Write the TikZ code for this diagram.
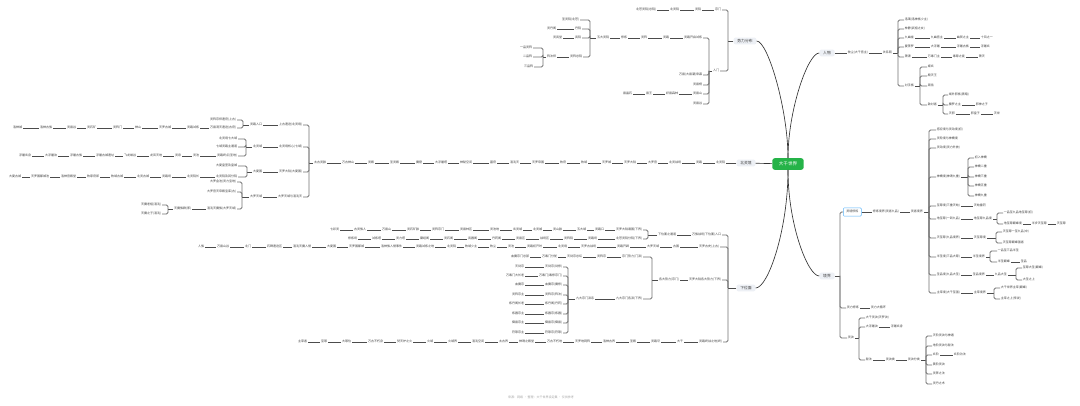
\documentclass[tikz,border=0pt]{standalone}
\usepackage{fontspec}
\setmainfont{Noto Sans CJK SC}
\usepackage{xcolor}
\definecolor{topicfill}{RGB}{237,240,245}
\definecolor{rootgreen}{RGB}{37,179,72}
\definecolor{pickblue}{RGB}{90,180,250}
\definecolor{inkgray}{RGB}{60,60,60}

\tikzset{
  lbl/.style={font=\fontsize{3}{3.6}\selectfont, text=inkgray, inner xsep=0.7pt, inner ysep=0.4pt, text height=2.5pt, text depth=0.6pt},
  lnk/.style={draw=black!70, line width=0.55pt},
  brk/.style={draw=black!55, line width=0.8pt, rounded corners=1.5pt},
  topic/.style={fill=topicfill, rounded corners=2pt, font=\fontsize{3.8}{4.4}\selectfont, text=inkgray, inner xsep=3.8pt, inner ysep=1.6pt, text height=2.9pt, text depth=0.7pt},
  rootnode/.style={fill=rootgreen, rounded corners=2.5pt, text=white, font=\fontsize{4.6}{5.2}\selectfont, inner xsep=6.5pt, inner ysep=3.6pt, text height=3.6pt, text depth=0.8pt},
  curve/.style={draw=black!80, line width=0.65pt},
  pick/.style={draw=pickblue, line width=0.5pt, rounded corners=1pt, inner xsep=3pt, inner ysep=2.6pt},
}

% a row of text nodes, joined one to the next
\newcommand{\chainrow}[4]{%
  \foreach \ex/\tx [count=\ci] in {#4}{%
    \node[lbl, anchor=#3] (#1\ci) at (\ex,#2) {\tx};
    \ifnum\ci>1 \pgfmathtruncatemacro\cj{\ci-1}\draw[lnk] (#1\cj) -- (#1\ci);\fi
  }}
% a bracket from a parent node to its children
\newcommand{\branchfork}[3]{%
  \draw[lnk] (#1) -- (#1 -| #2,0);
  \foreach \kid in {#3} \draw[brk] (#1 -| #2,0) |- (\kid);
}

\begin{document}
\begin{tikzpicture}[x=1pt,y=1pt,yscale=-1,xscale=1]
\fill[white] (0,0) rectangle (1080,406);
\useasboundingbox (0,0) rectangle (1080,406);

% Root and main topics
\node[rootnode] (root) at (788,164) {大千世界};
\node[topic] (br1) at (745,41) {势力分布};
\node[topic] (br2) at (827,53) {人物};
\node[topic] (br3) at (746,163) {北灵境};
\node[topic] (br4) at (746,288) {下位面};
\node[topic] (br5) at (827,276) {境界};

%Curves
\draw[curve] (root.north) .. controls (788,110) and (768,41) .. (br1.east);
\draw[curve] (root.north) .. controls (788,110) and (808,53) .. (br2.west);
\draw[curve] (root.south) .. controls (788,230) and (768,288) .. (br4.east);
\draw[curve] (root.south) .. controls (788,225) and (808,276) .. (br5.west);
\draw[curve] (root) -- (br3);

% Text Nodes: 势力分布
\chainrow{tA}{10}{east}{722/宗门,702/灵院,680/北灵院,657/北苍灵院(总院)}
\chainrow{tB}{71}{east}{720/入门}
\branchfork{br1}{728}{tA1,tB1}
\chainrow{tC}{38}{east}{703/灵路开启试炼,670/灵路,648/灵阵,628/修炼,610/五大灵院}
\chainrow{tD}{75}{east}{703/万兽(大兽潮)来袭}
\chainrow{tE}{85}{east}{703/灵兽榜}
\chainrow{tF}{94}{east}{703/灵兽山,679/妖兽森林,653/兽王,633/兽晶石}
\chainrow{tG}{104}{east}{703/灵兽谷}
\branchfork{tB1}{709}{tC1,tD1,tE1,tF1,tG1}
\chainrow{tH}{20}{east}{580/圣灵院(北苍)}
\chainrow{tI}{29}{east}{582/丹院,557/灵丹阁}
\chainrow{tJ}{38}{east}{582/武院,563/灵武堂}
\chainrow{tK}{57}{east}{583/灵阵总院,557/阵法师}
\branchfork{tC5}{590}{tH1,tI1,tJ1,tK1}
\chainrow{tL}{48}{east}{533/一品灵阵}
\chainrow{tM}{57}{east}{533/二品阵}
\chainrow{tN}{67}{east}{534/三品阵}
\branchfork{tK2}{543}{tL1,tM1,tN1}

% Text Nodes: 人物
\chainrow{pA}{53}{west}{847/牧尘(大千宫主),882/关系网}
\draw[lnk] (br2) -- (pA1);
\chainrow{pB}{20}{west}{904/洛璃(洛神族少主)}
\chainrow{pC}{29}{west}{904/林静(武祖之女)}
\chainrow{pD}{38}{west}{904/九幽雀,930/九幽宫主,956/幽冥之主,980/十凤之一}
\chainrow{pE}{47}{west}{904/曼荼罗,930/大浮屠,956/浮屠古族,980/浮屠玄}
\chainrow{pF}{57}{west}{904/萧潇,927/万毒门主,952/毒尊之徒,978/萧天}
\chainrow{pG}{86}{west}{904/对手族}
\branchfork{pA2}{898}{pB1,pC1,pD1,pE1,pF1,pG1}
\chainrow{pH}{67}{west}{927/姬玄}
\chainrow{pI}{76}{west}{927/殿天王}
\chainrow{pJ}{86}{west}{927/周岳}
\chainrow{pK}{105}{west}{927/敌对者}
\branchfork{pG1}{920}{pH1,pI1,pJ1,pK1}
\chainrow{pL}{95}{west}{948/域外邪族(黑暗)}
\chainrow{pM}{105}{west}{948/魔罗之主,975/邪神之子}
\chainrow{pN}{114}{west}{948/天邪,970/邪皇子,993/灭世}
\branchfork{pK1}{943}{pL1,pM1,pN1}

% Text Nodes: 北灵境
\chainrow{mA}{163}{east}{726/北灵院,703/灵路,682/北灵战场,658/大罗宫,637/天罗大陆,612/天罗城,588/牧域,567/牧府,545/天罗帝国,520/混沌天,497/墓府,473/神秘空间,448/大浮屠塔,423/魔窟,400/圣灵殿,375/灵殿,355/万古神山,327/太古灵脉}
\draw[lnk] (br3) -- (mA1);
\chainrow{mB}{125}{east}{303/上古遗迹(北灵境),263/灵路入口}
\chainrow{mC}{147}{east}{303/北灵境核心(七域),263/北灵域}
\chainrow{mD}{172}{east}{303/天罗大陆(大夏国),263/大夏国}
\chainrow{mE}{197}{east}{303/大罗天域与混沌天,263/大罗天域}
\branchfork{mA18}{309}{mB1,mC1,mD1,mE1}
\chainrow{mF}{120}{east}{237/灵阵宗师遗府(上古)}
\chainrow{mG}{128}{east}{237/万兽洞天遗迹(古府),200/灵路试炼,172/天罗古城,142/神山,123/灵阵门,97/灵石矿,77/灵兽谷,53/洛神古族,23/洛神城}
\branchfork{mB2}{243}{mF1,mG1}
\chainrow{mH}{139}{east}{238/北灵境七大域}
\chainrow{mI}{147}{east}{238/七域灵路主通道}
\chainrow{mJ}{156}{east}{238/灵路终点(圣地),200/灵池,182/灵泉,163/龙凤天地,137/飞龙峡谷,115/浮屠古城遗址,83/浮屠古族,58/大浮屠诀,32/浮屠玄身}
\branchfork{mC2}{246}{mH1,mI1,mJ1}
\chainrow{mK}{166}{east}{238/大夏皇室及皇城}
\chainrow{mL}{177}{east}{238/北灵院及其分院,200/北灵院长,172/灵路场,150/北灵古城,124/牧域古城,100/牧家府邸,77/洛神宫殿堂,50/天罗国都城池,22/大夏古城}
\branchfork{mD2}{247}{mK1,mL1}
\chainrow{mM}{182}{east}{237/大罗金池(灵力宝地)}
\chainrow{mN}{192}{east}{237/大罗宫天帝殿宝库(古)}
\chainrow{mO}{209}{east}{237/混沌天魔族(大罗天域),192/天魔族群(邪)}
\branchfork{mE2}{242}{mM1,mN1,mO1}
\chainrow{mP}{205}{east}{162/天魔老祖(混沌)}
\chainrow{mQ}{214}{east}{162/天魔之子(混沌)}
\branchfork{mO2}{168}{mP1,mQ1}

% Text Nodes: 下位面
\chainrow{lA}{235}{east}{722/万族战场(下位面)入口,677/下位面之通道}
\chainrow{lB}{247}{east}{720/天罗古史(上古),680/古国,660/大罗天域,630/灵路开辟,597/天罗古战场,568/北灵境,543/灵路初开时,515/灵池,497/牧尘,478/牧域少主,457/北灵院,435/灵路试炼之地,403/洛神族入侵事件,365/天罗国都城,337/大夏国,312/混沌天魔入侵,283/石碑遗迹区,252/北门,230/万兽山谷,205/人族}
\chainrow{lC}{280}{east}{722/天罗大陆各大势力(下界),680/各大势力(宗门)}
\chainrow{lD}{342}{east}{723/灵路终战之地(终),684/大千,661/灵路尽,637/圣殿,616/洛神古界,591/天罗地网阵,563/万古不朽地,535/神魂之殿堂,509/太古界,485/混沌空间,458/火域界,434/火域,413/焚天炉之火,384/万古不朽身,352/大尊位,328/至尊,308/主宰者}
\branchfork{br4}{728}{lA1,lB1,lC1,lD1}
\chainrow{lE}{230}{east}{643/天罗大陆诸国(下界),605/灵路口,587/五大域,563/灵山脉,543/北灵城,523/玄灵域,500/灵池地,473/灵兽林区,445/灵阵宗门,420/灵石矿脉,392/万兽山,367/古灵族人,340/七彩灵}
\chainrow{lF}{239}{east}{643/北苍灵院分院(下界),598/灵路场,574/灵阵院,550/战场区,526/灵兽区,502/丹药阁,478/武器阁,454/灵石阁,430/藏经阁,406/灵力塔,382/试炼塔,358/修炼场}
\branchfork{lA2}{648}{lE1,lF1}
\chainrow{lG}{257}{east}{643/宗门势力(门派),607/灵阵宗,583/天剑宗总坛,558/万毒门分舵,530/血魔宗门总部}
\chainrow{lH}{299}{east}{643/九大宗门各派(下界),595/九大宗门派系}
\branchfork{lC2}{652}{lG1,lH1}
\chainrow{lI}{267}{east}{563/天剑宗(剑修),525/天剑宗}
\chainrow{lJ}{276}{east}{563/万毒门(毒修宗门),525/万毒门大长老}
\chainrow{lK}{285}{east}{563/血魔宗(魔修),525/血魔宗}
\chainrow{lL}{295}{east}{563/灵阵宗(阵法),525/灵阵宗主}
\chainrow{lM}{304}{east}{563/炼丹阁(丹药),525/炼丹阁长老}
\chainrow{lN}{314}{east}{563/炼器宗(炼器),525/炼器宗主}
\chainrow{lO}{323}{east}{563/御兽宗(御兽),525/御兽宗主}
\chainrow{lP}{333}{east}{563/符箓宗(符箓),525/符箓宗主}
\branchfork{lH2}{568}{lI1,lJ1,lK1,lL1,lM1,lN1,lO1,lP1}

% Text Nodes: 境界
\node[lbl, pick, anchor=west] (rA0) at (843,212) {灵境修炼};
\chainrow{rA}{212}{west}{872/修炼境界(灵者九品),910/灵者境界}
\draw[lnk] (rA0) -- (rA1);
\chainrow{rB}{308}{west}{846/灵力修炼,870/灵力大循环}
\chainrow{rC}{338}{west}{847/灵诀}
\branchfork{br5}{840}{rA0,rB1,rC1}
\chainrow{rD}{130}{west}{936/感应境与灵动境(初)}
\chainrow{rE}{139}{west}{936/灵轮境与神魄境}
\chainrow{rF}{148}{west}{936/灵动境(灵力外放)}
\chainrow{rG}{177}{west}{936/神魄境(神魂九重)}
\chainrow{rH}{206}{west}{936/至尊境(三重天劫),973/天劫雷罚}
\chainrow{rI}{219}{west}{936/地至尊(一到九品),973/地至尊九品境}
\chainrow{rJ}{238}{west}{936/天至尊(九品境界),973/天至尊境}
\chainrow{rK}{257}{west}{936/半圣境(三品大尊),972/半圣境界}
\chainrow{rL}{275}{west}{936/圣品境(九品大圣),972/圣品境界,994/九品大圣}
\chainrow{rM}{293}{west}{936/主宰境(大千至强),973/主宰境界}
\branchfork{rA2}{929}{rD1,rE1,rF1,rG1,rH1,rI1,rJ1,rK1,rL1,rM1}
\chainrow{rN}{158}{west}{974/初入神魄}
\chainrow{rO}{167}{west}{974/神魄二重}
\chainrow{rP}{177}{west}{974/神魄三重}
\chainrow{rQ}{186}{west}{974/神魄五重}
\chainrow{rR}{196}{west}{974/神魄九重}
\branchfork{rG1}{968}{rN1,rO1,rP1,rQ1,rR1}
\chainrow{rS}{213}{west}{1003/一品至九品地至尊(初)}
\chainrow{rT}{224}{west}{1003/地至尊巅峰境,1031/半步天至尊,1056/天至尊}
\branchfork{rI2}{997}{rS1,rT1}
\chainrow{rU}{232}{west}{1002/天至尊一至九品(中)}
\chainrow{rV}{243}{west}{1002/天至尊巅峰强者}
\branchfork{rJ2}{996}{rU1,rV1}
\chainrow{rW}{251}{west}{997/一品至三品半圣}
\chainrow{rX}{262}{west}{997/半圣巅峰,1020/圣品}
\branchfork{rK2}{990}{rW1,rX1}
\chainrow{rY}{268}{west}{1022/至尊大圣(巅峰)}
\chainrow{rZ}{280}{west}{1022/大圣之上}
\branchfork{rL3}{1016}{rY1,rZ1}
\chainrow{sA}{288}{west}{1000/大千世界主宰(巅峰)}
\chainrow{sB}{299}{west}{1000/主宰之上(传说)}
\branchfork{rM2}{994}{sA1,sB1}
\chainrow{sC}{318}{west}{865/大千灵诀(天罗诀)}
\chainrow{sD}{327}{west}{865/大浮屠诀,890/浮屠玄身}
\chainrow{sE}{360}{west}{865/秘法,885/灵诀类,907/灵诀分类}
\branchfork{rC1}{859}{sC1,sD1,sE1}
\chainrow{sF}{336}{west}{932/天阶灵诀与神通}
\chainrow{sG}{346}{west}{932/地阶灵诀与秘法}
\chainrow{sH}{355}{west}{932/玄阶,953/玄阶功法}
\chainrow{sI}{365}{west}{932/黄阶灵诀}
\chainrow{sJ}{374}{west}{932/灵阵之法}
\chainrow{sK}{384}{west}{932/灵丹之术}
\branchfork{sE3}{926}{sF1,sG1,sH1,sI1,sJ1,sK1}

% Text Node
\node[lbl, text=black!35] (note) at (541,398) {来源：网络 · 整理：大千世界设定集 · 仅供参考};

\end{tikzpicture}
\end{document}
